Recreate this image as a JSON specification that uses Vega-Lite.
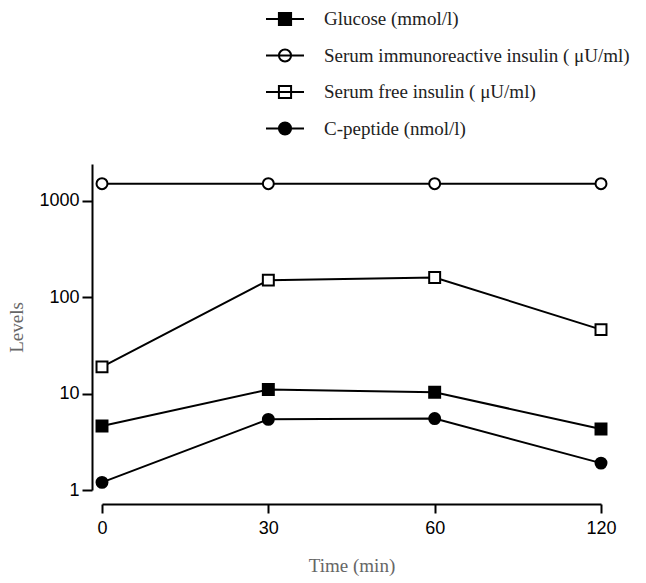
{
  "$schema": "https://vega.github.io/schema/vega-lite/v6.json",
  "autosize": "none",
  "width": 499,
  "height": 326,
  "padding": {"left": 102, "top": 164, "right": 45, "bottom": 93},
  "background": "white",
  "config": {
    "view": {"stroke": null},
    "axis": {"grid": false, "domainColor": "black", "domainWidth": 2, "tickColor": "black", "tickWidth": 2, "tickSize": 9,
      "labelFont": "Liberation Sans", "labelFontSize": 18, "labelColor": "black",
      "titleFont": "Liberation Serif", "titleFontSize": 19, "titleFontWeight": "normal", "titleColor": "#666666"}
  },
  "data": {"values": [
    {"series": "Glucose (mmol/l)", "time": 0, "value": 4.6},
    {"series": "Glucose (mmol/l)", "time": 30, "value": 11.0},
    {"series": "Glucose (mmol/l)", "time": 60, "value": 10.3},
    {"series": "Glucose (mmol/l)", "time": 120, "value": 4.3},
    {"series": "Serum immunoreactive insulin ( μU/ml)", "time": 0, "value": 1500},
    {"series": "Serum immunoreactive insulin ( μU/ml)", "time": 30, "value": 1500},
    {"series": "Serum immunoreactive insulin ( μU/ml)", "time": 60, "value": 1500},
    {"series": "Serum immunoreactive insulin ( μU/ml)", "time": 120, "value": 1500},
    {"series": "Serum free insulin ( μU/ml)", "time": 0, "value": 18.9},
    {"series": "Serum free insulin ( μU/ml)", "time": 30, "value": 150},
    {"series": "Serum free insulin ( μU/ml)", "time": 60, "value": 160},
    {"series": "Serum free insulin ( μU/ml)", "time": 120, "value": 46},
    {"series": "C-peptide (nmol/l)", "time": 0, "value": 1.2},
    {"series": "C-peptide (nmol/l)", "time": 30, "value": 5.4},
    {"series": "C-peptide (nmol/l)", "time": 60, "value": 5.5},
    {"series": "C-peptide (nmol/l)", "time": 120, "value": 1.9}
  ]},
  "encoding": {
    "x": {"field": "time", "type": "ordinal",
      "scale": {"type": "point", "domain": [0, 30, 60, 120], "padding": 0},
      "axis": {"title": "Time (min)", "labelAngle": 0, "offset": 14, "labelPadding": 6, "titlePadding": 19}},
    "y": {"field": "value", "type": "quantitative",
      "scale": {"type": "log", "domain": [1, 2400], "nice": false},
      "axis": {"title": "Levels", "values": [1, 10, 100, 1000], "format": "d", "offset": 10, "tickSize": 10, "labelPadding": 3, "titlePadding": 12}}
  },
  "layer": [
    {
      "mark": {"type": "line", "color": "black", "strokeWidth": 2},
      "encoding": {"detail": {"field": "series"}}
    },
    {
      "mark": {"type": "point", "size": 120, "stroke": "black", "strokeWidth": 2, "opacity": 1},
      "encoding": {
        "shape": {"field": "series", "type": "nominal", "legend": null,
          "scale": {"domain": ["Glucose (mmol/l)", "Serum immunoreactive insulin ( μU/ml)", "Serum free insulin ( μU/ml)", "C-peptide (nmol/l)"],
                    "range": ["square", "circle", "square", "circle"]}},
        "fill": {"field": "series", "type": "nominal", "legend": null,
          "scale": {"domain": ["Glucose (mmol/l)", "Serum immunoreactive insulin ( μU/ml)", "Serum free insulin ( μU/ml)", "C-peptide (nmol/l)"],
                    "range": ["black", "white", "white", "black"]}}
      }
    },
    {
      "mark": {"type": "point", "stroke": "black", "strokeWidth": 2, "opacity": 0},
      "encoding": {
        "shape": {"field": "series", "type": "nominal",
          "scale": {"domain": ["Glucose (mmol/l)", "Serum immunoreactive insulin ( μU/ml)", "Serum free insulin ( μU/ml)", "C-peptide (nmol/l)"],
                    "range": [
                      "M-1,0H1M-0.32,-0.32H0.32V0.32H-0.32Z",
                      "M-1,0H1M0.32,0A0.32,0.32 0 1,1 -0.32,0A0.32,0.32 0 1,1 0.32,0Z",
                      "M-1,0H1M-0.32,-0.32H0.32V0.32H-0.32Z",
                      "M-1,0H1M0.32,0A0.32,0.32 0 1,1 -0.32,0A0.32,0.32 0 1,1 0.32,0Z"]},
          "legend": {"title": null, "orient": "none", "legendX": 163, "legendY": -165, "padding": 0,
            "symbolSize": 1444, "symbolOpacity": 1, "symbolStrokeWidth": 2, "labelOffset": 19, "rowPadding": 5.5,
            "labelFont": "Liberation Serif", "labelFontSize": 19, "labelColor": "#222222", "labelLimit": 400}},
        "fill": {"field": "series", "type": "nominal",
          "scale": {"domain": ["Glucose (mmol/l)", "Serum immunoreactive insulin ( μU/ml)", "Serum free insulin ( μU/ml)", "C-peptide (nmol/l)"],
                    "range": ["black", "white", "white", "black"]},
          "legend": {"title": null, "orient": "none", "legendX": 163, "legendY": -165, "padding": 0,
            "symbolSize": 1444, "symbolOpacity": 1, "symbolStrokeWidth": 2, "labelOffset": 19, "rowPadding": 5.5,
            "labelFont": "Liberation Serif", "labelFontSize": 19, "labelColor": "#222222", "labelLimit": 400}}
      }
    }
  ],
  "resolve": {"scale": {"shape": "independent", "fill": "independent"}, "legend": {"shape": "independent", "fill": "independent"}}
}
